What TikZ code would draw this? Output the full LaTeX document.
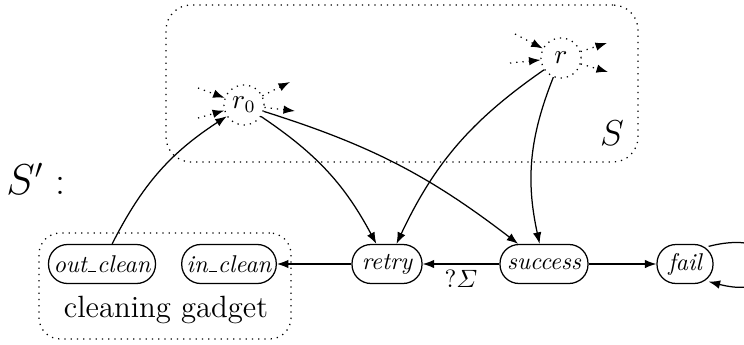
\documentclass[tikz,border=0pt]{standalone}
\usepackage{amsmath}
\usetikzlibrary{arrows.meta,calc}
\newcommand\lowbar{\leavevmode\kern.06em\vbox{\hrule height 0.6pt width.33em}\kern.03em}
\begin{document}
\begin{tikzpicture}[x=0.4pt,y=0.4pt,
  tip/.style={-{Latex[length=4.6pt,width=3.4pt]}},
  edge/.style={tip, line width=0.5pt},
  stub/.style={tip, dotted, line width=0.5pt},
  state/.style={draw, line width=0.5pt, rectangle, rounded corners=7.6pt,
    minimum height=15.6pt, inner xsep=2pt, inner ysep=0pt,
    font=\fontsize{9.7}{11}\selectfont\itshape},
  pin/.style={draw, dotted, circle, minimum size=16pt, inner sep=0pt,
    line width=0.5pt, font=\fontsize{10.5}{12}\selectfont},
  region/.style={draw, dotted, line width=0.5pt, rectangle, inner sep=0pt}
]
\useasboundingbox (0,0) rectangle (744,-345);

% regions
\node[region, rounded corners=10pt, minimum width=188.8pt, minimum height=62.8pt] (topbox) at (402,-83.5) {};
\node[region, rounded corners=8.5pt, minimum width=100.8pt, minimum height=42.4pt] (gadget) at (165,-286) {};

% pins
\node[pin] (r0) at (244,-105) {$r_0$};
\node[pin] (r) at (561,-58) {$r$};

% states
\node[state, minimum width=42pt] (outc) at (102,-264) {out\lowbar clean};
\node[state, minimum width=37.2pt] (inc) at (229,-264) {in\lowbar clean};
\node[state, minimum width=28pt] (retry) at (387,-264) {retry};
\node[state, minimum width=35.2pt] (succ) at (544,-264) {success};
\node[state, minimum width=22.4pt] (fail) at (685,-264) {fail};

% labels
\node[font=\fontsize{16}{18}\selectfont] (sp) at (36,-179) {$S'$ :};
\node[font=\fontsize{14.5}{16}\selectfont] (slab) at (612,-133) {$S$};
\node[font=\fontsize{12.3}{14}\selectfont] (cg) at (166,-310) {cleaning gadget};

% stubs
\coordinate (a1) at (198,-88);
\coordinate (a2) at (198,-118);
\coordinate (b1) at (290,-82);
\coordinate (b2) at (295,-111);
\coordinate (c1) at (515,-34);
\coordinate (c2) at (510,-63);
\coordinate (d1) at (607,-43);
\coordinate (d2) at (608,-72);
\draw[stub] (a1) -- (r0);
\draw[stub] (a2) -- (r0);
\draw[stub] (r0) -- (b1);
\draw[stub] (r0) -- (b2);
\draw[stub] (c1) -- (r);
\draw[stub] (c2) -- (r);
\draw[stub] (r) -- (d1);
\draw[stub] (r) -- (d2);

% edges
\draw[edge] (outc) to[bend left=15] (r0);
\draw[edge] (r0) to[bend left=14] (retry);
\draw[edge] (r0) to[bend left=10] (succ);
\draw[edge] (r) to[bend right=15] (retry);
\draw[edge] (r) to[bend right=17] (succ);
\draw[edge] (succ) -- node[midway, yshift=-5.8pt, font=\fontsize{10}{12}\selectfont] {$?\varSigma$} (retry);
\draw[edge] (retry) -- (inc);
\draw[edge] (succ) -- (fail);
\draw[edge] ([shift={(-5,-2.5)}]fail.north east) .. controls +(85,22) and +(85,-22) .. ([shift={(-5,2.5)}]fail.south east);
\end{tikzpicture}
\end{document}
